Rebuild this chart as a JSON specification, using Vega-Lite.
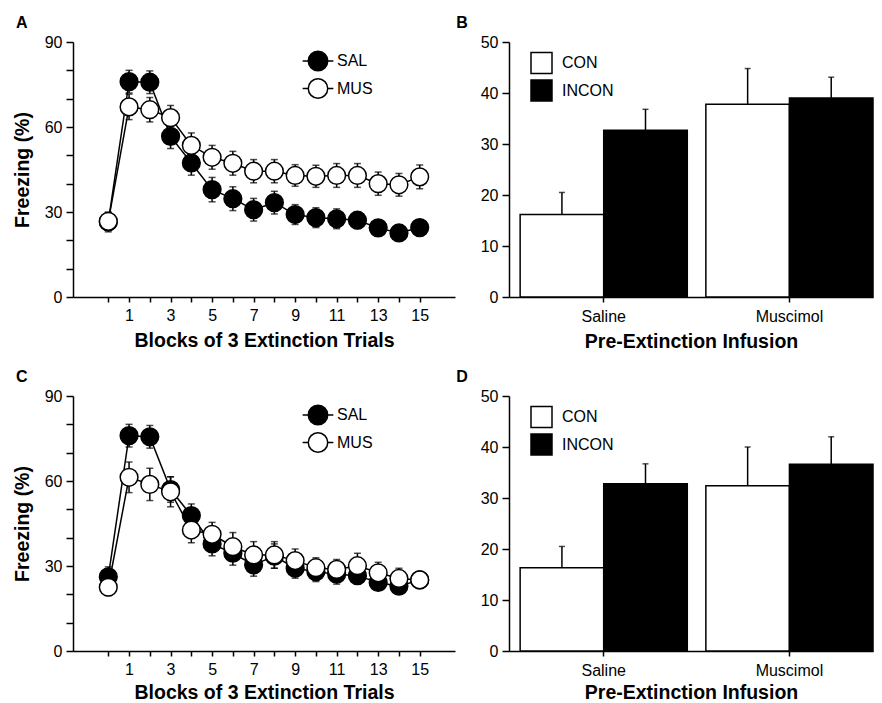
{
  "$schema": "https://vega.github.io/schema/vega-lite/v6.json",
  "padding": {"left": 12, "top": 15, "right": 5, "bottom": 5},
  "background": "white",
  "config": {
    "font": "Liberation Sans",
    "view": {"stroke": null},
    "axis": {"grid": false, "domainColor": "black", "domainWidth": 1.5, "tickColor": "black", "tickWidth": 1.5, "labelColor": "black", "labelFont": "Liberation Sans", "labelFontSize": 16, "titleFont": "Liberation Sans", "titleFontSize": 19.5, "titleFontWeight": "bold", "titleColor": "black"},
    "legend": {"labelFont": "Liberation Sans", "labelFontSize": 16, "labelColor": "black"},
    "title": {"font": "Liberation Sans", "fontSize": 16, "fontWeight": "bold", "anchor": "start", "color": "black", "frame": "group"}
  },
  "datasets": {
    "lineA": [
      {"block": 0, "group": "SAL", "mean": 26.5, "sem": 3.5},
      {"block": 1, "group": "SAL", "mean": 76.0, "sem": 4.0},
      {"block": 2, "group": "SAL", "mean": 75.8, "sem": 4.0},
      {"block": 3, "group": "SAL", "mean": 56.7, "sem": 4.3},
      {"block": 4, "group": "SAL", "mean": 47.3, "sem": 4.3},
      {"block": 5, "group": "SAL", "mean": 37.9, "sem": 4.3},
      {"block": 6, "group": "SAL", "mean": 34.7, "sem": 4.2},
      {"block": 7, "group": "SAL", "mean": 30.8, "sem": 4.0},
      {"block": 8, "group": "SAL", "mean": 33.3, "sem": 4.0},
      {"block": 9, "group": "SAL", "mean": 29.1, "sem": 3.5},
      {"block": 10, "group": "SAL", "mean": 28.0, "sem": 3.5},
      {"block": 11, "group": "SAL", "mean": 27.6, "sem": 3.5},
      {"block": 12, "group": "SAL", "mean": 27.1, "sem": 3.0},
      {"block": 13, "group": "SAL", "mean": 24.4, "sem": 2.5},
      {"block": 14, "group": "SAL", "mean": 22.6, "sem": 2.5},
      {"block": 15, "group": "SAL", "mean": 24.5, "sem": 2.5},
      {"block": 0, "group": "MUS", "mean": 26.7, "sem": 3.0},
      {"block": 1, "group": "MUS", "mean": 67.1, "sem": 4.5},
      {"block": 2, "group": "MUS", "mean": 66.1, "sem": 4.3},
      {"block": 3, "group": "MUS", "mean": 63.3, "sem": 4.3},
      {"block": 4, "group": "MUS", "mean": 53.5, "sem": 4.4},
      {"block": 5, "group": "MUS", "mean": 49.3, "sem": 4.2},
      {"block": 6, "group": "MUS", "mean": 47.2, "sem": 4.2},
      {"block": 7, "group": "MUS", "mean": 44.4, "sem": 4.1},
      {"block": 8, "group": "MUS", "mean": 44.4, "sem": 4.1},
      {"block": 9, "group": "MUS", "mean": 42.9, "sem": 3.8},
      {"block": 10, "group": "MUS", "mean": 42.6, "sem": 3.9},
      {"block": 11, "group": "MUS", "mean": 42.9, "sem": 4.2},
      {"block": 12, "group": "MUS", "mean": 42.9, "sem": 4.2},
      {"block": 13, "group": "MUS", "mean": 40.0, "sem": 4.1},
      {"block": 14, "group": "MUS", "mean": 39.6, "sem": 4.0},
      {"block": 15, "group": "MUS", "mean": 42.4, "sem": 4.2}
    ],
    "lineC": [
      {"block": 0, "group": "SAL", "mean": 26.2, "sem": 3.5},
      {"block": 1, "group": "SAL", "mean": 76.0, "sem": 4.0},
      {"block": 2, "group": "SAL", "mean": 75.6, "sem": 4.0},
      {"block": 3, "group": "SAL", "mean": 57.0, "sem": 4.5},
      {"block": 4, "group": "SAL", "mean": 47.8, "sem": 4.1},
      {"block": 5, "group": "SAL", "mean": 37.8, "sem": 4.2},
      {"block": 6, "group": "SAL", "mean": 34.5, "sem": 4.2},
      {"block": 7, "group": "SAL", "mean": 30.4, "sem": 4.0},
      {"block": 8, "group": "SAL", "mean": 33.5, "sem": 4.3},
      {"block": 9, "group": "SAL", "mean": 29.2, "sem": 3.5},
      {"block": 10, "group": "SAL", "mean": 28.0, "sem": 3.5},
      {"block": 11, "group": "SAL", "mean": 27.1, "sem": 3.5},
      {"block": 12, "group": "SAL", "mean": 26.6, "sem": 3.0},
      {"block": 13, "group": "SAL", "mean": 24.2, "sem": 2.5},
      {"block": 14, "group": "SAL", "mean": 22.9, "sem": 2.5},
      {"block": 15, "group": "SAL", "mean": 25.1, "sem": 2.5},
      {"block": 0, "group": "MUS", "mean": 22.5, "sem": 3.0},
      {"block": 1, "group": "MUS", "mean": 61.3, "sem": 5.4},
      {"block": 2, "group": "MUS", "mean": 58.8, "sem": 5.7},
      {"block": 3, "group": "MUS", "mean": 56.2, "sem": 5.3},
      {"block": 4, "group": "MUS", "mean": 42.7, "sem": 4.5},
      {"block": 5, "group": "MUS", "mean": 41.2, "sem": 4.2},
      {"block": 6, "group": "MUS", "mean": 36.8, "sem": 5.0},
      {"block": 7, "group": "MUS", "mean": 33.9, "sem": 4.7},
      {"block": 8, "group": "MUS", "mean": 33.9, "sem": 4.7},
      {"block": 9, "group": "MUS", "mean": 31.9, "sem": 4.1},
      {"block": 10, "group": "MUS", "mean": 29.4, "sem": 3.5},
      {"block": 11, "group": "MUS", "mean": 28.8, "sem": 3.5},
      {"block": 12, "group": "MUS", "mean": 30.1, "sem": 4.4},
      {"block": 13, "group": "MUS", "mean": 27.6, "sem": 3.7},
      {"block": 14, "group": "MUS", "mean": 25.6, "sem": 3.6},
      {"block": 15, "group": "MUS", "mean": 25.1, "sem": 3.0}
    ],
    "barB": [
      {"infusion": "Saline", "cond": "CON", "value": 16.2, "hi": 20.5},
      {"infusion": "Saline", "cond": "INCON", "value": 32.7, "hi": 36.8},
      {"infusion": "Muscimol", "cond": "CON", "value": 37.8, "hi": 44.8},
      {"infusion": "Muscimol", "cond": "INCON", "value": 39.0, "hi": 43.1}
    ],
    "barD": [
      {"infusion": "Saline", "cond": "CON", "value": 16.3, "hi": 20.5},
      {"infusion": "Saline", "cond": "INCON", "value": 32.8, "hi": 36.7},
      {"infusion": "Muscimol", "cond": "CON", "value": 32.4, "hi": 40.0},
      {"infusion": "Muscimol", "cond": "INCON", "value": 36.6, "hi": 42.0}
    ]
  },
  "spacing": 18,
  "resolve": {"scale": {"fill": "independent"}, "legend": {"fill": "independent"}},
  "vconcat": [
    {
      "spacing": 1,
      "resolve": {"scale": {"fill": "independent"}, "legend": {"fill": "independent"}},
      "hconcat": [
        {
          "title": {"text": "A", "dx": -57, "offset": 3},
          "width": 382, "height": 255,
          "data": {"name": "lineA"},
          "encoding": {
            "x": {"field": "block", "type": "quantitative", "scale": {"domain": [-1.7, 16.7], "nice": false, "zero": false},
                  "axis": {"title": "Blocks of 3 Extinction Trials", "values": [0,1,2,3,4,5,6,7,8,9,10,11,12,13,14,15], "labelExpr": "datum.value % 2 == 1 ? datum.label : ''", "tickSize": 5, "labelPadding": 5, "titlePadding": 8, "labelFlush": false, "labelOverlap": false}},
            "y": {"field": "mean", "type": "quantitative", "scale": {"domain": [0, 90], "nice": false},
                  "axis": {"title": "Freezing (%)", "values": [0,10,20,30,40,50,60,70,80,90], "labelExpr": "datum.value % 30 == 0 ? datum.label : ''", "tickSize": 7, "labelPadding": 4, "titlePadding": 12, "labelOverlap": false}}
          },
          "layer": [
            {"mark": {"type": "errorbar", "ticks": {"size": 7}, "thickness": 1.5, "color": "black"}, "encoding": {"yError": {"field": "sem"}, "detail": {"field": "group"}}},
            {"mark": {"type": "line", "color": "black", "strokeWidth": 1.5}, "encoding": {"detail": {"field": "group"}}},
            {"mark": {"type": "point", "shape": "circle", "size": 314, "filled": true, "stroke": "black", "strokeWidth": 1.5, "opacity": 1},
             "encoding": {"fill": {"field": "group", "type": "nominal", "scale": {"domain": ["SAL", "MUS"], "range": ["black", "white"]},
               "legend": {"title": null, "orient": "none", "legendX": 234, "legendY": 8, "symbolType": "M-1.5,0L-0.95,0M0.95,0L1.5,0M-0.95,0A0.95,0.95 0 1,0 0.95,0A0.95,0.95 0 1,0 -0.95,0Z", "symbolSize": 420, "symbolStrokeColor": "black", "symbolStrokeWidth": 1.5, "symbolOpacity": 1, "labelOffset": 8, "rowPadding": 1.5}}}}
          ]
        },
        {
          "title": {"text": "B", "dx": -52.7, "offset": 3},
          "width": 364, "height": 255,
          "data": {"name": "barB"},
          "encoding": {
            "x": {"field": "infusion", "type": "nominal", "sort": ["Saline", "Muscimol"], "scale": {"paddingInner": 0.1, "paddingOuter": 0.03, "align": 1},
                  "axis": {"title": "Pre-Extinction Infusion", "labelAngle": 0, "tickSize": 5, "labelPadding": 6, "titlePadding": 8}},
            "xOffset": {"field": "cond", "type": "nominal", "sort": ["CON", "INCON"], "scale": {"paddingInner": 0, "paddingOuter": 0}},
            "y": {"field": "value", "type": "quantitative", "scale": {"domain": [0, 50], "nice": false},
                  "axis": {"title": null, "values": [0,10,20,30,40,50], "tickSize": 7, "labelPadding": 4}}
          },
          "layer": [
            {"mark": {"type": "rule", "color": "black", "strokeWidth": 1.5}, "encoding": {"y2": {"field": "hi"}}},
            {"mark": {"type": "tick", "color": "black", "thickness": 1.5, "size": 6, "orient": "horizontal"}, "encoding": {"y": {"field": "hi", "type": "quantitative"}}},
            {"mark": {"type": "bar", "stroke": "black", "strokeWidth": 1.5},
             "encoding": {"fill": {"field": "cond", "type": "nominal", "scale": {"domain": ["CON", "INCON"], "range": ["white", "black"]},
               "legend": {"title": null, "orient": "none", "legendX": 21, "legendY": 9.5, "symbolType": "square", "symbolSize": 441, "symbolStrokeColor": "black", "symbolStrokeWidth": 1.5, "symbolOpacity": 1, "labelOffset": 9, "rowPadding": 0.5}}}}
          ]
        }
      ]
    },
    {
      "spacing": 1,
      "resolve": {"scale": {"fill": "independent"}, "legend": {"fill": "independent"}},
      "hconcat": [
        {
          "title": {"text": "C", "dx": -57, "offset": 3},
          "width": 382, "height": 255,
          "data": {"name": "lineC"},
          "encoding": {
            "x": {"field": "block", "type": "quantitative", "scale": {"domain": [-1.7, 16.7], "nice": false, "zero": false},
                  "axis": {"title": "Blocks of 3 Extinction Trials", "values": [0,1,2,3,4,5,6,7,8,9,10,11,12,13,14,15], "labelExpr": "datum.value % 2 == 1 ? datum.label : ''", "tickSize": 5, "labelPadding": 5, "titlePadding": 6, "labelFlush": false, "labelOverlap": false}},
            "y": {"field": "mean", "type": "quantitative", "scale": {"domain": [0, 90], "nice": false},
                  "axis": {"title": "Freezing (%)", "values": [0,10,20,30,40,50,60,70,80,90], "labelExpr": "datum.value % 30 == 0 ? datum.label : ''", "tickSize": 7, "labelPadding": 4, "titlePadding": 12, "labelOverlap": false}}
          },
          "layer": [
            {"mark": {"type": "errorbar", "ticks": {"size": 7}, "thickness": 1.5, "color": "black"}, "encoding": {"yError": {"field": "sem"}, "detail": {"field": "group"}}},
            {"mark": {"type": "line", "color": "black", "strokeWidth": 1.5}, "encoding": {"detail": {"field": "group"}}},
            {"mark": {"type": "point", "shape": "circle", "size": 314, "filled": true, "stroke": "black", "strokeWidth": 1.5, "opacity": 1},
             "encoding": {"fill": {"field": "group", "type": "nominal", "scale": {"domain": ["SAL", "MUS"], "range": ["black", "white"]},
               "legend": {"title": null, "orient": "none", "legendX": 234, "legendY": 8, "symbolType": "M-1.5,0L-0.95,0M0.95,0L1.5,0M-0.95,0A0.95,0.95 0 1,0 0.95,0A0.95,0.95 0 1,0 -0.95,0Z", "symbolSize": 420, "symbolStrokeColor": "black", "symbolStrokeWidth": 1.5, "symbolOpacity": 1, "labelOffset": 8, "rowPadding": 1.5}}}}
          ]
        },
        {
          "title": {"text": "D", "dx": -52.7, "offset": 3},
          "width": 364, "height": 255,
          "data": {"name": "barD"},
          "encoding": {
            "x": {"field": "infusion", "type": "nominal", "sort": ["Saline", "Muscimol"], "scale": {"paddingInner": 0.1, "paddingOuter": 0.03, "align": 1},
                  "axis": {"title": "Pre-Extinction Infusion", "labelAngle": 0, "tickSize": 5, "labelPadding": 6, "titlePadding": 5}},
            "xOffset": {"field": "cond", "type": "nominal", "sort": ["CON", "INCON"], "scale": {"paddingInner": 0, "paddingOuter": 0}},
            "y": {"field": "value", "type": "quantitative", "scale": {"domain": [0, 50], "nice": false},
                  "axis": {"title": null, "values": [0,10,20,30,40,50], "tickSize": 7, "labelPadding": 4}}
          },
          "layer": [
            {"mark": {"type": "rule", "color": "black", "strokeWidth": 1.5}, "encoding": {"y2": {"field": "hi"}}},
            {"mark": {"type": "tick", "color": "black", "thickness": 1.5, "size": 6, "orient": "horizontal"}, "encoding": {"y": {"field": "hi", "type": "quantitative"}}},
            {"mark": {"type": "bar", "stroke": "black", "strokeWidth": 1.5},
             "encoding": {"fill": {"field": "cond", "type": "nominal", "scale": {"domain": ["CON", "INCON"], "range": ["white", "black"]},
               "legend": {"title": null, "orient": "none", "legendX": 21, "legendY": 9.5, "symbolType": "square", "symbolSize": 441, "symbolStrokeColor": "black", "symbolStrokeWidth": 1.5, "symbolOpacity": 1, "labelOffset": 9, "rowPadding": 0.5}}}}
          ]
        }
      ]
    }
  ]
}
